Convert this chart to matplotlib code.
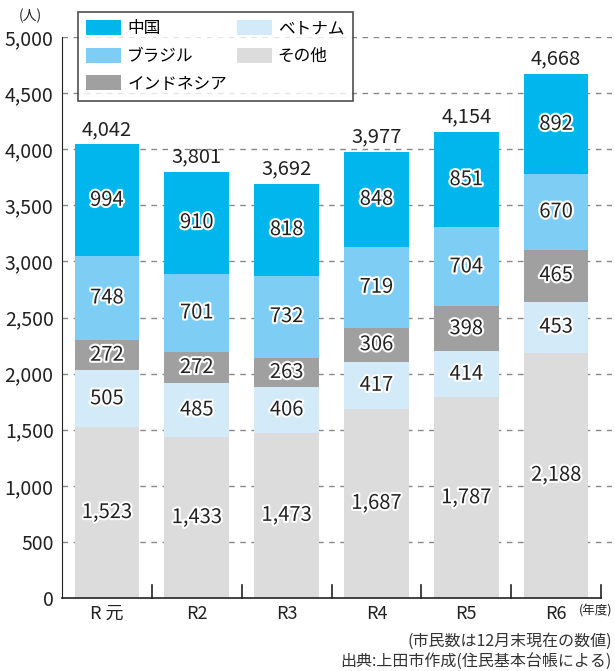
import numpy as np
import matplotlib.pyplot as plt
import matplotlib.patheffects as pe
from matplotlib.patches import Patch

plt.rcParams['font.family'] = ['Noto Sans CJK JP', 'DejaVu Sans']

years = ['R 元', 'R2', 'R3', 'R4', 'R5', 'R6']
other = [1523, 1433, 1473, 1687, 1787, 2188]
vietnam = [505, 485, 406, 417, 414, 453]
indonesia = [272, 272, 263, 306, 398, 465]
brazil = [748, 701, 732, 719, 704, 670]
china = [994, 910, 818, 848, 851, 892]
totals = [4042, 3801, 3692, 3977, 4154, 4668]

series = [('その他', other, '#dcdcdc'),
          ('ベトナム', vietnam, '#d3ebf9'),
          ('インドネシア', indonesia, '#a0a0a0'),
          ('ブラジル', brazil, '#7ecdf4'),
          ('中国', china, '#00b6ed')]

fig = plt.figure(figsize=(6.15, 6.71), dpi=100)
ax = fig.add_axes([62 / 615, 73 / 671, 550 / 615, 561 / 671])

x = np.arange(len(years))
bottom = np.zeros(len(years))
stroke = [pe.withStroke(linewidth=3, foreground='white')]
for name, vals, col in series:
    ax.bar(x, vals, width=0.72, bottom=bottom, color=col, zorder=2)
    for xi, b, v in zip(x, bottom, vals):
        ax.text(xi, b + v / 2, f'{v:,}', ha='center', va='center',
                fontsize=14.5, color='#222222', path_effects=stroke, zorder=3)
    bottom += np.array(vals)

for xi, t in zip(x, totals):
    ax.text(xi, t + 40, f'{t:,}', ha='center', va='bottom', fontsize=14.5, color='#222222')

ax.set_ylim(0, 5000)
ax.set_xlim(-0.5, 5.5 + 11 / 90)
ax.set_yticks(np.arange(0, 5001, 500))
ax.set_yticklabels([f'{v:,}' for v in range(0, 5001, 500)], fontsize=14, color='#222222')
ax.tick_params(axis='y', length=0, pad=6)
for v in range(500, 5001, 500):
    ax.axhline(v, color='#888888', linestyle=(0, (4, 4)), linewidth=1, zorder=1)

ax.set_xticks(x)
ax.set_xticklabels(years, fontsize=13, color='#222222')
ax.tick_params(axis='x', length=0, pad=5)
for s in ['top', 'right', 'bottom']:
    ax.spines[s].set_visible(False)
ax.spines['left'].set_color('#222222')
ax.plot([-0.5, 5.5], [0, 0], color='#222222', lw=1.2, clip_on=False, zorder=4)
for b in np.arange(0.5, 5.6, 1):
    ax.plot([b, b], [0, 120], color='#222222', lw=1.2, clip_on=False, zorder=4)

fig.text(30 / 615, 1 - 16 / 671, '(人)', fontsize=10, ha='center', va='center', color='#222222')
fig.text(1 - 3 / 615, 1 - 611 / 671, '(年度)', fontsize=9, ha='right', va='center', color='#222222')
fig.text(1 - 3 / 615, 1 - 641 / 671, '(市民数は12月末現在の数値)', fontsize=11.5, ha='right', va='center', color='#333333')
fig.text(1 - 3 / 615, 1 - 662 / 671, '出典:上田市作成(住民基本台帳による)', fontsize=11.5, ha='right', va='center', color='#333333')

cols = {n: c for n, _, c in series}
order = ['中国', 'ブラジル', 'インドネシア', 'ベトナム', 'その他']
handles = [Patch(facecolor=cols[n], label=n) for n in order]
leg = fig.legend(handles=handles, ncol=2, loc='upper left',
                 bbox_to_anchor=(78 / 615, 1 - 12 / 671), fontsize=12,
                 frameon=True, fancybox=False, edgecolor='#222222',
                 handlelength=2.1, handleheight=1.0, columnspacing=0.6,
                 labelspacing=0.62, handletextpad=0.35, borderpad=0.5,
                 borderaxespad=0)
leg.get_frame().set_linewidth(1.2)
leg.set_zorder(10)

fig.savefig('out.png', dpi=100)
